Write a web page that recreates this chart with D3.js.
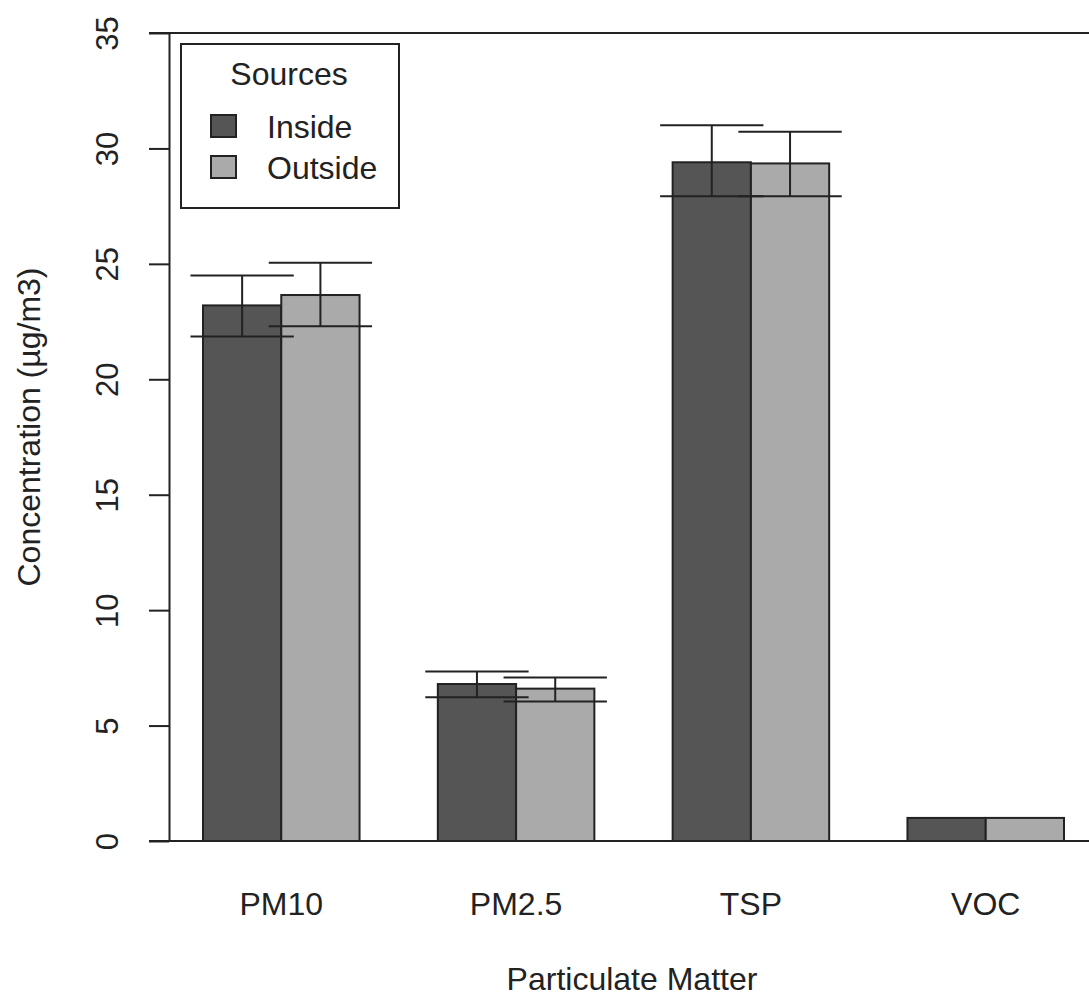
<!DOCTYPE html>
<html>
<head>
<meta charset="utf-8">
<script src="https://cdn.jsdelivr.net/npm/d3@7"></script>
<style>
  html, body { margin: 0; padding: 0; background: #fff; }
  svg text { font-family: "Liberation Sans", Arial, sans-serif; fill: #222; }
</style>
</head>
<body>
<div id="chart"></div>
<script>
// Data
var categories   = ['PM10', 'PM2.5', 'TSP', 'VOC'];
var sources      = ['Inside', 'Outside'];
var insideMean   = [23.2, 6.8, 29.4, 1.0];
var outsideMean  = [23.65, 6.6, 29.35, 1.0];
var insideLower  = [21.85, 6.23, 27.93, null];
var insideUpper  = [24.5, 7.34, 31.0, null];
var outsideLower = [22.3, 6.04, 27.93, null];
var outsideUpper = [25.05, 7.08, 30.72, null];
var yTicks       = [0, 5, 10, 15, 20, 25, 30, 35];

var width  = 1089,
    height = 1003;

var colors = { Inside: '#555555', Outside: '#aaaaaa' };

// Build rows for each bar from the arrays above
var rows = [];
categories.forEach(function(c, i) {
  rows.push({ cat: c, src: 'Inside', value: insideMean[i], lo: insideLower[i], hi: insideUpper[i] });
  rows.push({ cat: c, src: 'Outside', value: outsideMean[i], lo: outsideLower[i], hi: outsideUpper[i] });
});

var svg = d3.select('#chart')
            .append('svg')
            .attr('width', width)
            .attr('height', height);

var y = d3.scaleLinear()
          .domain([0, 35])
          .range([841, 33]);

// Groups are separated by one bar width, like R's barplot(beside = TRUE)
var x0 = d3.scaleBand()
           .domain(categories)
           .range([203, 1064])
           .paddingInner(1 / 3)
           .paddingOuter(0);

var x1 = d3.scaleBand()
           .domain(sources)
           .range([0, x0.bandwidth()]);

var capHalf = x1.bandwidth() * 0.66;

// Horizontal lines at the bottom and top of the plot
svg.append('g')
   .selectAll('line')
   .data([0, 35])
   .enter()
   .append('line')
   .attr('x1', 149)
   .attr('x2', width)
   .attr('y1', function(d) { return y(d); })
   .attr('y2', function(d) { return y(d); })
   .attr('stroke', '#222')
   .attr('stroke-width', 2);

// Y axis
var yAxis = svg.append('g')
               .attr('transform', 'translate(169,0)')
               .call(d3.axisLeft(y).tickValues(yTicks).tickSize(20).tickSizeOuter(0).tickPadding(0));

yAxis.select('.domain').attr('stroke', '#222').attr('stroke-width', 2);
yAxis.selectAll('.tick line').attr('stroke', '#222').attr('stroke-width', 2);
yAxis.selectAll('.tick text')
     .attr('x', null)
     .attr('dy', null)
     .attr('transform', 'translate(-51,0) rotate(-90)')
     .attr('text-anchor', 'middle')
     .style('font-size', '31px')
     .style('font-family', '"Liberation Sans", Arial, sans-serif')
     .attr('fill', '#222');

// Bars
svg.append('g')
   .selectAll('rect')
   .data(rows)
   .enter()
   .append('rect')
   .attr('x', function(d) { return x0(d.cat) + x1(d.src); })
   .attr('y', function(d) { return y(d.value); })
   .attr('width', x1.bandwidth())
   .attr('height', function(d) { return y(0) - y(d.value); })
   .attr('fill', function(d) { return colors[d.src]; })
   .attr('stroke', '#222')
   .attr('stroke-width', 2);

// Error bars
var err = svg.append('g')
             .selectAll('g')
             .data(rows.filter(function(d) { return d.lo !== null; }))
             .enter()
             .append('g')
             .attr('stroke', '#222')
             .attr('stroke-width', 2);

var cx = function(d) { return x0(d.cat) + x1(d.src) + x1.bandwidth() / 2; };

err.append('line')
   .attr('x1', cx).attr('x2', cx)
   .attr('y1', function(d) { return y(d.lo); })
   .attr('y2', function(d) { return y(d.hi); });

['lo', 'hi'].forEach(function(k) {
  err.append('line')
     .attr('x1', function(d) { return cx(d) - capHalf; })
     .attr('x2', function(d) { return cx(d) + capHalf; })
     .attr('y1', function(d) { return y(d[k]); })
     .attr('y2', function(d) { return y(d[k]); });
});

// Category labels
svg.append('g')
   .selectAll('text')
   .data(categories)
   .enter()
   .append('text')
   .attr('x', function(d) { return x0(d) + x0.bandwidth() / 2; })
   .attr('y', 915)
   .attr('text-anchor', 'middle')
   .style('font-size', '32px')
   .text(function(d) { return d; });

// Axis titles
svg.append('text')
   .attr('x', 632)
   .attr('y', 990)
   .attr('text-anchor', 'middle')
   .style('font-size', '32px')
   .text('Particulate Matter');

svg.append('text')
   .attr('transform', 'translate(40,427) rotate(-90)')
   .attr('text-anchor', 'middle')
   .style('font-size', '32px')
   .text('Concentration (µg/m3)');

// Legend
var legend = svg.append('g');

legend.append('rect')
      .attr('x', 181).attr('y', 44)
      .attr('width', 218).attr('height', 164)
      .attr('fill', '#fff')
      .attr('stroke', '#222')
      .attr('stroke-width', 2);

legend.append('text')
      .attr('x', 289).attr('y', 85)
      .attr('text-anchor', 'middle')
      .style('font-size', '32px')
      .text('Sources');

var items = legend.selectAll('g.item')
                  .data(sources)
                  .enter()
                  .append('g')
                  .attr('class', 'item')
                  .attr('transform', function(d, i) { return 'translate(0,' + (i * 41) + ')'; });

items.append('rect')
     .attr('x', 211).attr('y', 115)
     .attr('width', 25).attr('height', 22)
     .attr('fill', function(d) { return colors[d]; })
     .attr('stroke', '#222')
     .attr('stroke-width', 2);

items.append('text')
     .attr('x', 267).attr('y', 138)
     .style('font-size', '32px')
     .text(function(d) { return d; });
</script>
</body>
</html>
